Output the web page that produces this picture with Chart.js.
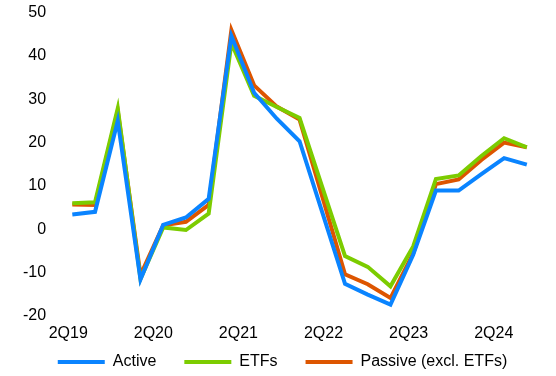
<!DOCTYPE html>
<html lang="en">
<head>
    <meta charset="UTF-8">
    <title>Flows by fund type</title>
    <script src="https://cdn.jsdelivr.net/npm/chart.js"></script>
    <style>
        html, body { margin: 0; padding: 0; background: #fff; }
        #wrap { width: 556px; height: 376px; }
    </style>
</head>
<body>
    <div id="wrap"><canvas id="flowChart"></canvas></div>
    <script>
        // quarterly values, 2Q19 .. 2Q24
        const quarters = ['2Q19', '3Q19', '4Q19', '1Q20', '2Q20', '3Q20', '4Q20', '1Q21', '2Q21', '3Q21', '4Q21',
                          '1Q22', '2Q22', '3Q22', '4Q22', '1Q23', '2Q23', '3Q23', '4Q23', '1Q24', '2Q24'];
        const tickLabels = ['2Q19', '2Q20', '2Q21', '2Q22', '2Q23', '2Q24'];

        const active  = [3.4, 4.0, 25.0, -11.6, 1.0, 2.7, 7.0, 44.6, 31.5, 25.5, 20.3, 3.9, -12.6, -15.1, -17.4, -5.9, 8.9, 8.9, 12.7, 16.4, 14.9];
        const etfs    = [6.0, 6.2, 27.9, -11.5, 0.4, -0.2, 3.6, 43.0, 30.8, 28.2, 25.7, 9.7, -6.2, -8.7, -13.2, -4.0, 11.6, 12.4, 16.9, 21.0, 18.9];
        const passive = [5.7, 5.6, 27.3, -10.6, 0.9, 1.7, 5.6, 46.0, 33.2, 28.3, 25.3, 7.5, -10.4, -12.7, -15.9, -5.6, 10.4, 11.5, 16.0, 20.0, 18.9];

        const toPoints = arr => arr.map((y, i) => ({ x: i, y: y }));

        function series(label, values, color) {
            return {
                label: label,
                data: toPoints(values),
                borderColor: color,
                backgroundColor: color,
                borderWidth: 4,
                pointRadius: 0,
                tension: 0
            };
        }

        // legend padding is also used vertically, so pull the legend top up after layout
        const legendShift = {
            id: 'legendShift',
            afterLayout(chart) {
                chart.legend.top -= 25;
            }
        };

        Chart.defaults.font.family = '"Liberation Sans", Arial, sans-serif';
        Chart.defaults.font.size = 16;
        Chart.defaults.color = '#000';

        const ctx = document.getElementById('flowChart').getContext('2d');
        new Chart(ctx, {
            type: 'line',
            data: {
                datasets: [
                    series('Active', active, '#0a84ff'),
                    series('ETFs', etfs, '#7ccc00'),
                    series('Passive (excl. ETFs)', passive, '#dd5500')
                ]
            },
            options: {
                responsive: true,
                maintainAspectRatio: false,
                animation: false,
                layout: { padding: { left: 20, right: 11, top: 6, bottom: 0 } },
                plugins: {
                    tooltip: { enabled: false },
                    legend: {
                        position: 'bottom',
                        maxHeight: 25,
                        labels: {
                            usePointStyle: true,
                            pointStyle: 'line',
                            pointStyleWidth: 47,
                            padding: 28,
                            color: '#000'
                        }
                    }
                },
                scales: {
                    x: {
                        type: 'linear',
                        min: -0.8,
                        max: quarters.length - 1 + 0.8,
                        grid: { display: false, drawTicks: false },
                        border: { display: false },
                        afterBuildTicks: axis => {
                            axis.ticks = tickLabels.map((q, i) => ({ value: -0.18 + 3.745 * i }));
                        },
                        ticks: {
                            padding: 8,
                            maxRotation: 0,
                            autoSkip: false,
                            callback: (v, i) => tickLabels[i]
                        }
                    },
                    y: {
                        min: -20,
                        max: 50,
                        grid: { display: false, drawTicks: true, tickLength: 5 },
                        border: { display: false },
                        ticks: { stepSize: 10, padding: 3 }
                    }
                }
            },
            plugins: [legendShift]
        });
    </script>
</body>
</html>
